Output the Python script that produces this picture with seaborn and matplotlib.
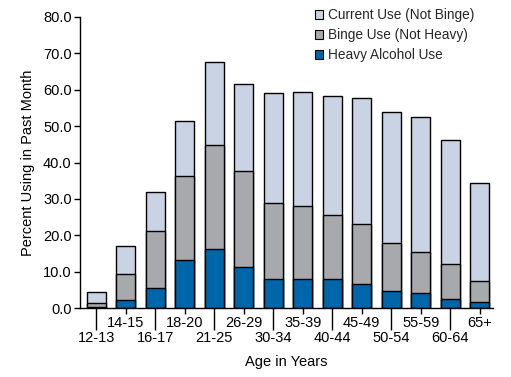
import matplotlib
matplotlib.use("Agg")
import matplotlib.pyplot as plt
import seaborn as sns
import pandas as pd
import numpy as np
from matplotlib.patches import Patch

ages = ["12-13", "14-15", "16-17", "18-20", "21-25", "26-29", "30-34",
        "35-39", "40-44", "45-49", "50-54", "55-59", "60-64", "65+"]
heavy = [0.2, 2.1, 5.4, 13.1, 16.1, 11.2, 7.9, 7.9, 8.0, 6.5, 4.8, 4.0, 2.6, 1.6]
binge_top = [1.3, 9.3, 21.1, 36.2, 44.7, 37.8, 29.0, 28.0, 25.5, 23.1, 17.8, 15.3, 12.0, 7.3]
current_top = [4.3, 17.0, 31.8, 51.3, 67.5, 61.5, 59.0, 59.5, 58.4, 57.6, 53.8, 52.6, 46.2, 34.3]

c_current = "#CAD3E3"
c_binge = "#A8A9AD"
c_heavy = "#0066AA"

sns.set_theme(style="white")
plt.rcParams['font.family'] = ['Liberation Sans', 'DejaVu Sans']

df = pd.DataFrame({"age": ages, "heavy": heavy, "binge": binge_top, "current": current_top})

fig = plt.figure(figsize=(5.11, 3.77), dpi=100)
ax = fig.add_axes([80/511, 1-308/377, (493-80)/511, (308-17)/377])

for col, color in [("current", c_current), ("binge", c_binge), ("heavy", c_heavy)]:
    sns.barplot(data=df, x="age", y=col, color=color, saturation=1, width=0.64,
                edgecolor="black", linewidth=1.0, ax=ax, order=ages)

fs = 10.5
ax.set_ylim(0, 80)
ax.set_xlim(-0.55, 13.45)
ax.set_yticks(np.arange(0, 81, 10))
ax.set_yticklabels([f"{v:.1f}" for v in np.arange(0, 81, 10)], fontsize=fs)

pos = np.arange(len(ages))
ax.set_xticks(pos[0::2])
ax.set_xticklabels(ages[0::2], fontsize=fs)
ax.set_xticks(pos[1::2], minor=True)
ax.set_xticklabels(ages[1::2], minor=True, fontsize=fs)

for s in ["top", "right"]:
    ax.spines[s].set_visible(False)
for s in ["left", "bottom"]:
    ax.spines[s].set_color("black")
    ax.spines[s].set_linewidth(1.0)

ax.tick_params(axis="y", which="major", left=True, direction="out", length=4, width=1,
               color="black", pad=2, labelcolor="black")
ax.tick_params(axis="x", which="major", bottom=True, direction="out", length=15.5, width=1,
               color="black", pad=1.0, labelcolor="black")
ax.tick_params(axis="x", which="minor", bottom=True, direction="out", length=4.5, width=1,
               color="black", pad=1.0, labelcolor="black")

ax.set_xlabel("Age in Years", fontsize=fs, labelpad=7, color="black")
ax.set_ylabel("Percent Using in Past Month", fontsize=fs, labelpad=6, color="black")

handles = [Patch(facecolor=c_current, edgecolor="black", linewidth=0.8, label="Current Use (Not Binge)"),
           Patch(facecolor=c_binge, edgecolor="black", linewidth=0.8, label="Binge Use (Not Heavy)"),
           Patch(facecolor=c_heavy, edgecolor="black", linewidth=0.8, label="Heavy Alcohol Use")]
ax.legend(handles=handles, loc="upper left", bbox_to_anchor=(0.54, 1.073), frameon=False,
          fontsize=9.8, handlelength=0.6, handleheight=0.6, handletextpad=0.35, labelspacing=0.45)

fig.savefig("out.png", dpi=100)
